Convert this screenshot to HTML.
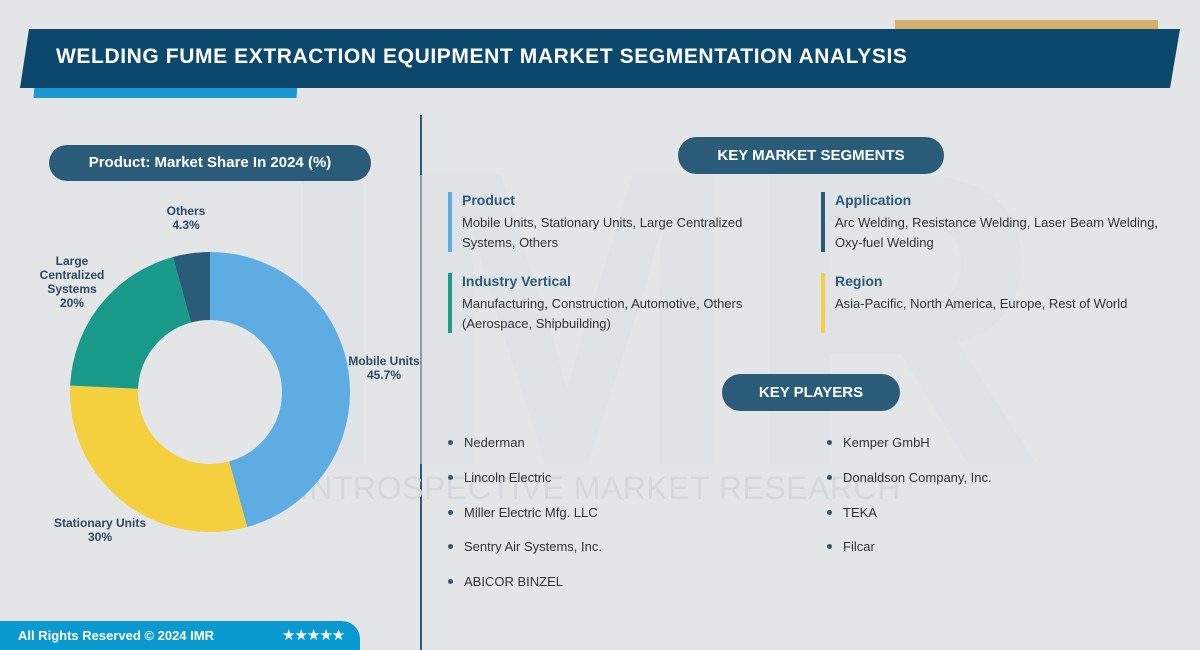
<!DOCTYPE html>
<html><head><meta charset="utf-8"><style>
body{margin:0;width:1200px;height:650px;background:#e4e5e7;font-family:"Liberation Sans",Arial,sans-serif;position:relative;overflow:hidden}
.a{position:absolute}
.pill{position:absolute;background:#2a5c7a;color:#fff;font-weight:bold;border-radius:20px;text-align:center}
.h{font-weight:bold;color:#2a5c7a;font-size:14px}
.t{color:#333;font-size:13px;line-height:20px}
.bar{position:absolute;width:4px}
.pl{position:absolute;font-size:13px;color:#333}
.pl:before{content:"";position:absolute;left:-16px;top:5px;width:5px;height:5px;border-radius:50%;background:#2a5c7a}
.lab{position:absolute;font-size:12px;font-weight:bold;color:#2a4a66;text-align:center;line-height:14px}
</style></head><body>
<div class="a" style="left:895px;top:20px;width:263px;height:12px;background:#d4b06a"></div>
<div class="a" style="left:34px;top:85px;width:263px;height:13px;background:#1b98d4;transform:skewX(-4deg)"></div>
<svg class="a" style="left:0;top:0" width="1200" height="100"><polygon points="29,29 1180,29 1170,88 20,88" fill="#0c476c"/></svg>
<div class="a" style="left:56px;top:45px;color:#fff;font-weight:bold;font-size:21px;letter-spacing:0.6px">WELDING FUME EXTRACTION EQUIPMENT MARKET SEGMENTATION ANALYSIS</div>
<div class="a" style="left:420px;top:115px;width:2px;height:535px;background:#2c5a7a"></div>
<div class="a" style="left:275px;top:110px;font-size:420px;font-weight:bold;color:#dde2e6;opacity:.5;line-height:420px">IMR</div>
<div class="a" style="left:300px;top:470px;font-size:32px;color:#d6d9dc;letter-spacing:0.5px">INTROSPECTIVE MARKET RESEARCH</div>
<div class="pill" style="left:49px;top:145px;width:322px;height:36px;line-height:36px;font-size:15px">Product: Market Share In 2024 (%)</div>
<svg class="a" style="left:0;top:0" width="420" height="650">
<g transform="rotate(-90 210 392)" fill="none" stroke-width="68">
<circle cx="210" cy="392" r="106" stroke="#5dade2" stroke-dasharray="304.4 666" stroke-dashoffset="0"/>
<circle cx="210" cy="392" r="106" stroke="#f4d03f" stroke-dasharray="199.8 666" stroke-dashoffset="-304.4"/>
<circle cx="210" cy="392" r="106" stroke="#1a9a8a" stroke-dasharray="133.2 666" stroke-dashoffset="-504.2"/>
<circle cx="210" cy="392" r="106" stroke="#2a5c7a" stroke-dasharray="28.6 666" stroke-dashoffset="-637.4"/>
</g></svg>
<div class="lab" style="left:146px;top:204px;width:80px">Others<br>4.3%</div>
<div class="lab" style="left:32px;top:254px;width:80px">Large<br>Centralized<br>Systems<br>20%</div>
<div class="lab" style="left:344px;top:354px;width:80px">Mobile Units<br>45.7%</div>
<div class="lab" style="left:40px;top:516px;width:120px">Stationary Units<br>30%</div>
<div class="pill" style="left:678px;top:137px;width:266px;height:37px;line-height:37px;font-size:15px">KEY MARKET SEGMENTS</div>
<div class="bar" style="left:448px;top:192px;height:60px;background:#5dade2"></div>
<div class="a h" style="left:462px;top:192px">Product</div>
<div class="a t" style="left:462px;top:213px;width:330px">Mobile Units, Stationary Units, Large Centralized Systems, Others</div>
<div class="bar" style="left:821px;top:192px;height:60px;background:#2a5c7a"></div>
<div class="a h" style="left:835px;top:192px">Application</div>
<div class="a t" style="left:835px;top:213px;width:340px">Arc Welding, Resistance Welding, Laser Beam Welding, Oxy-fuel Welding</div>
<div class="bar" style="left:448px;top:273px;height:60px;background:#1a9a8a"></div>
<div class="a h" style="left:462px;top:273px">Industry Vertical</div>
<div class="a t" style="left:462px;top:294px;width:330px">Manufacturing, Construction, Automotive, Others (Aerospace, Shipbuilding)</div>
<div class="bar" style="left:821px;top:273px;height:60px;background:#f4d03f"></div>
<div class="a h" style="left:835px;top:273px">Region</div>
<div class="a t" style="left:835px;top:294px;width:340px">Asia-Pacific, North America, Europe, Rest of World</div>
<div class="pill" style="left:722px;top:374px;width:178px;height:37px;line-height:37px;font-size:15px">KEY PLAYERS</div>
<div class="pl" style="left:464px;top:435px">Nederman</div>
<div class="pl" style="left:464px;top:470px">Lincoln Electric</div>
<div class="pl" style="left:464px;top:505px">Miller Electric Mfg. LLC</div>
<div class="pl" style="left:464px;top:539px">Sentry Air Systems, Inc.</div>
<div class="pl" style="left:464px;top:574px">ABICOR BINZEL</div>
<div class="pl" style="left:843px;top:435px">Kemper GmbH</div>
<div class="pl" style="left:843px;top:470px">Donaldson Company, Inc.</div>
<div class="pl" style="left:843px;top:505px">TEKA</div>
<div class="pl" style="left:843px;top:539px">Filcar</div>
<div class="a" style="left:0;top:621px;width:360px;height:29px;background:#0a9ad0;border-top-right-radius:18px"></div>
<div class="a" style="left:18px;top:628px;color:#fff;font-weight:bold;font-size:13px">All Rights Reserved © 2024 IMR</div>
<div class="a" style="left:282px;top:626px;color:#fff;font-size:15px;letter-spacing:-1px">★★★★★</div>
</body></html>
